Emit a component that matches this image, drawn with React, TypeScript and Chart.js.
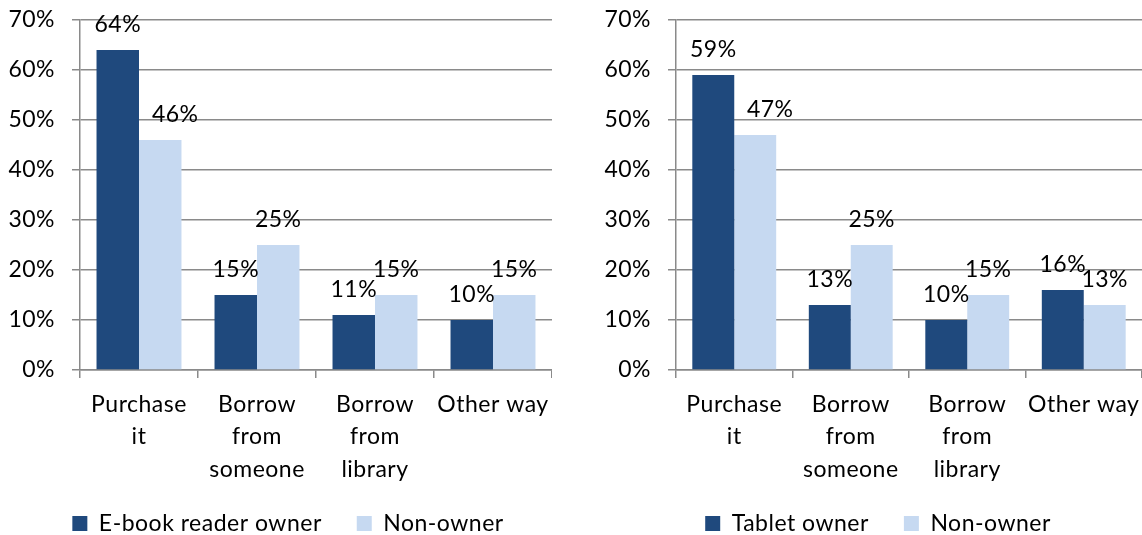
import React, { useEffect, useRef } from "react";
import { Chart, registerables } from "chart.js";

Chart.register(...registerables);

const categories: (string | string[])[] = [
  ["Purchase", "it"],
  ["Borrow", "from", "someone"],
  ["Borrow", "from", "library"],
  "Other way",
];
const ebookOwnerLabel = "E-book reader owner";
const tabletOwnerLabel = "Tablet owner";
const nonOwnerLabel = "Non-owner";
const ebookOwner = [64, 15, 11, 10];
const ebookNonOwner = [46, 25, 15, 15];
const tabletOwner = [59, 13, 10, 16];
const tabletNonOwner = [47, 25, 15, 13];
const yMin = 0;
const yMax = 70;
const yStep = 10;

// horizontal nudge (px) of the value labels of the non-owner series
const nonOwnerLabelNudge = [15, 0, 0, 0];

const DARK = "#1F497D";
const LIGHT = "#C6D9F1";
const GRID = "#8a8a8a";
const FONT = "Lato";
const FS = 23;
const SPACING = "0.5px";

const valueLabels = {
  id: "valueLabels",
  beforeUpdate(chart: any) {
    chart.ctx.letterSpacing = SPACING;
  },
  beforeLayout(chart: any) {
    chart.ctx.letterSpacing = SPACING;
  },
  afterLayout(chart: any) {
    const shift = chart.options.legendShift || 0;
    if (chart.legend) {
      chart.legend.left += shift;
      chart.legend.right += shift;
    }
    if (chart.scales.x) chart.scales.x.bottom += 30;
  },
  beforeDraw(chart: any) {
    chart.ctx.letterSpacing = SPACING;
  },
  afterDatasetsDraw(chart: any) {
    const ctx = chart.ctx;
    ctx.save();
    ctx.letterSpacing = SPACING;
    ctx.font = `${FS}px ${FONT}`;
    ctx.fillStyle = "#000";
    ctx.textAlign = "center";
    ctx.textBaseline = "alphabetic";
    chart.data.datasets.forEach((ds: any, di: number) => {
      const meta = chart.getDatasetMeta(di);
      const nudge: number[] = ds.labelNudge || [];
      meta.data.forEach((el: any, i: number) => {
        ctx.fillText(`${ds.data[i]}%`, el.x + (nudge[i] || 0), el.y - 18);
      });
    });
    ctx.restore();
  },
};

function BarChart(props: {
  ownerLabel: string;
  owner: number[];
  nonOwner: number[];
  left: number;
  width: number;
  legendShift: number;
}) {
  const ref = useRef<HTMLCanvasElement | null>(null);
  useEffect(() => {
    if (!ref.current) return;
    const chart = new Chart(ref.current, {
      type: "bar",
      data: {
        labels: categories,
        datasets: [
          { label: props.ownerLabel, data: props.owner, backgroundColor: DARK },
          { label: nonOwnerLabel, data: props.nonOwner, backgroundColor: LIGHT, labelNudge: nonOwnerLabelNudge } as any,
        ],
      },
      options: {
        animation: false,
        responsive: false,
        devicePixelRatio: 1,
        legendShift: props.legendShift,
        layout: { padding: { top: 20, left: 0, right: 0, bottom: 0 } },
        datasets: { bar: { categoryPercentage: 0.72, barPercentage: 1.0 } },
        plugins: {
          legend: {
            position: "bottom",
            labels: {
              boxWidth: 15,
              boxHeight: 15,
              padding: 35,
              color: "#000",
              font: { family: FONT, size: FS },
            },
          },
          tooltip: { enabled: false },
        },
        scales: {
          x: {
            grid: {
              drawOnChartArea: false,
              drawTicks: true,
              tickLength: 8,
              color: GRID,
              lineWidth: 1.5,
              offset: true,
            },
            border: { display: true, color: GRID, width: 1.5 },
            ticks: {
              color: "#000",
              font: { family: FONT, size: FS, lineHeight: 1.42 },
              padding: 10,
              maxRotation: 0,
              autoSkip: false,
            },
            afterFit(scale: any) {
              scale.height = 107;
              scale.paddingLeft = 0;
              scale.paddingRight = 0;
            },
          },
          y: {
            min: yMin,
            max: yMax,
            grid: { color: GRID, tickLength: 8, drawTicks: true, lineWidth: 1.5 },
            border: { display: true, color: GRID, width: 1.5 },
            ticks: {
              stepSize: yStep,
              color: "#000",
              padding: 17,
              font: { family: FONT, size: FS },
              callback: (v: any) => `${v}%`,
            },
            afterFit(scale: any) {
              scale.width = 80;
              scale.paddingTop = 0;
              scale.paddingBottom = 0;
            },
          },
        },
      } as any,
      plugins: [valueLabels],
    });
    return () => chart.destroy();
  }, []);
  return (
    <canvas
      ref={ref}
      width={props.width}
      height={545}
      style={{ position: "absolute", left: props.left, top: 0, width: props.width, height: 545 }}
    />
  );
}

export default function App() {
  return (
    <div
      style={{
        position: "fixed",
        left: 0,
        top: 0,
        width: 1142,
        height: 535,
        overflow: "hidden",
        background: "#fff",
      }}
    >
      <BarChart ownerLabel={ebookOwnerLabel} owner={ebookOwner} nonOwner={ebookNonOwner} left={0} width={552} legendShift={12} />
      <BarChart ownerLabel={tabletOwnerLabel} owner={tabletOwner} nonOwner={tabletNonOwner} left={596} width={546} legendShift={9} />
    </div>
  );
}
